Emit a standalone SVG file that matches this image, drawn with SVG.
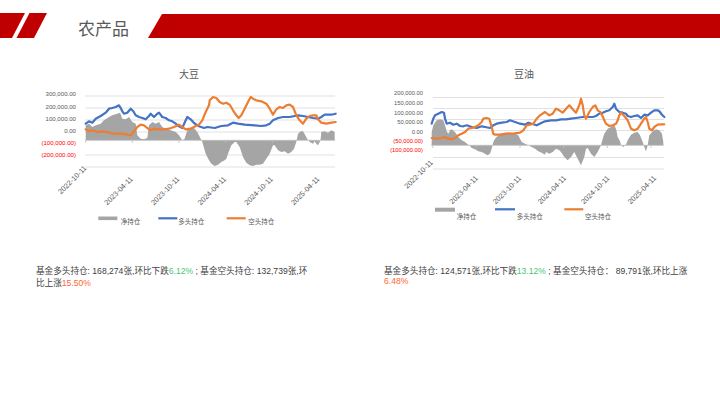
<svg xmlns="http://www.w3.org/2000/svg" width="720" height="405" viewBox="0 0 720 405">
<style>
.t{font-family:"Liberation Sans","Noto Sans CJK SC",sans-serif}
.ttl{font-size:10px;fill:#595959;text-anchor:middle}
.yl{font-size:5.8px;fill:#595959;text-anchor:end}
.yn{font-size:5.8px;fill:#FF0000;text-anchor:end}
.big{font-size:6.1px}
.xl{font-size:7.3px;fill:#595959;text-anchor:end}
.lg{font-size:6.5px;fill:#595959}
.grid{stroke:#d9d9d9;stroke-width:0.8;fill:none}
.axis{stroke:#bfbfbf;stroke-width:0.8;fill:none}
.net{fill:#A5A5A5;stroke:none}
.long{fill:none;stroke:#4472C4;stroke-width:2.2;stroke-linejoin:round;stroke-linecap:round}
.short{fill:none;stroke:#ED7D31;stroke-width:2.2;stroke-linejoin:round;stroke-linecap:round}
.body{font-size:8.6px;fill:#404040}
.up{fill:#48C774}
.dn{fill:#FF6633}
</style>
<rect width="720" height="405" fill="#ffffff"/>
<g id="header">
<polygon points="0,13 25,13 12,38 0,38" fill="#C00000"/>
<polygon points="29.5,13 47,13 34,38 16.5,38" fill="#C00000"/>
<polygon points="162,14 720,14 720,38 148,38" fill="#C00000"/>
<text class="t" x="78" y="35" font-size="17" fill="#595959">农产品</text>
</g>

<g id="chart-soybean">
<text class="t ttl" x="189" y="78">大豆</text>
<g class="grid">
<line x1="85" y1="96" x2="335" y2="96"/>
<line x1="85" y1="108" x2="335" y2="108"/>
<line x1="85" y1="120" x2="335" y2="120"/>
<line x1="85" y1="132" x2="335" y2="132"/>
<line x1="85" y1="155" x2="335" y2="155"/>
<line x1="85" y1="167" x2="335" y2="167"/>
</g>
<g class="t">
<text class="yl big" x="76" y="96.4">300,000.00</text>
<text class="yl big" x="76" y="108.8">200,000.00</text>
<text class="yl big" x="76" y="120.8">100,000.00</text>
<text class="yl big" x="76" y="132.8">0.00</text>
<text class="yn big" x="76" y="144.8">(100,000.00)</text>
<text class="yn big" x="76" y="156.8">(200,000.00)</text>
</g>
<path class="net" d="M85.7,140.3 L85.7,125.3 L89,123.7 L92.3,127 L95.7,125.3 L100.7,123.7 L104,120.3 L109,117 L112.3,115.3 L117.3,113.7 L120,112.7 L122.3,118.7 L125.7,119.3 L129,117 L132.3,122 L135.7,123.7 L137.3,135.3 L140.7,138.7 L144,139.3 L147.3,138 L149,125.3 L152.3,122 L155.7,123.7 L159,122 L162.3,127 L165.7,128.7 L170.7,130.3 L175.7,132 L179,135.3 L182.3,140.3 L184.5,139 L187.3,130.3 L190.7,128.7 L194,128 L197.3,132 L200.7,138.7 L202.3,142 L205.7,153.7 L209,160.3 L211.3,163.7 L214.7,166 L218,164.7 L221.3,162 L224.7,160.3 L226.3,158.7 L228,153.7 L231.3,145.3 L234.7,142 L236.3,142 L239.7,147 L243,157 L246.3,162.7 L249.7,165.3 L253,166 L256.3,164.7 L259.7,164.7 L263,163.7 L266.3,158.7 L269.7,153.7 L273,145.3 L274.7,145.3 L278,150.3 L281.3,152 L284.7,151.3 L288,153.7 L291.3,152 L294,148.7 L296.3,142 L298,133.7 L300.7,131.3 L303,131.3 L305.3,135.3 L308,140.3 L309.7,142 L313,143.7 L314.7,141.3 L316.3,143.7 L318,145.3 L319.7,142 L320.7,138.7 L321.3,132 L324.7,131.3 L328,132.7 L331.3,130.3 L334.7,132 L334.7,140.3 Z"/>
<line class="axis" x1="85" y1="140.3" x2="335" y2="140.3"/>
<g class="axis">
<line x1="85.7" y1="140.3" x2="85.7" y2="143"/>
<line x1="132.3" y1="140.3" x2="132.3" y2="143"/>
<line x1="179" y1="140.3" x2="179" y2="143"/>
<line x1="225.7" y1="140.3" x2="225.7" y2="143"/>
<line x1="272.3" y1="140.3" x2="272.3" y2="143"/>
<line x1="319" y1="140.3" x2="319" y2="143"/>
</g>
<polyline class="long" points="85.7,123.7 89,121.3 92.3,122.7 95.7,118.7 100.7,116 105.7,112.7 109,108.7 112.3,108 115.7,107 119,105.3 120.7,108 122.3,111.3 124,113.7 127.3,112.7 130.7,108.7 133.3,111.3 135.7,115.3 139,117 142.3,118 145.7,119.3 149,116 150.7,113.7 154,117 157.3,113.7 159,112.7 162.3,117 165.7,118 169,120.3 172.3,121.3 175.7,123.7 179,126.3 182.3,128 185.7,120.3 187.3,117 190.7,119.3 194,123 199,126.3 204,128 207.3,127 214.7,128 221.3,126 228,125.3 233,122.7 238,123.7 244.7,124.7 254.7,125.3 261.3,126 266.3,125.3 269.7,123.7 273,120.3 278,118 283,117 289.7,117 294.7,116 298,115.3 303,116 308,117 313,118 318,118.7 321.3,117 324.7,114.7 331.3,114.7 335.7,113.7"/>
<polyline class="short" points="85.7,129.3 89,131.3 92.3,130.3 97.3,132 102.3,131.3 107.3,132 112.3,133.7 117.3,133.7 122.3,133.7 127.3,134.7 130.7,135.3 134,131.3 137.3,127 140.7,124.7 144,125.3 147.3,128 150.7,130.3 154,128.7 157.3,129.3 164,129.3 169,128.7 174,127 179,124.7 182.3,127 185.7,129.3 190.7,128.7 195.7,126 199,124.7 202.3,120.3 205.7,112 209,105.3 209.7,100.3 213,97 216.3,98 219.7,102 223,103.7 226.3,102.7 229.7,104.7 233,110.3 236.3,115.3 238.7,118 241.3,115.3 244.7,108.7 248,102 250.7,97 253,98.7 256.3,100.3 261.3,101.3 266.3,103.7 269.7,108.7 273,114.7 276.3,109.3 279.7,107 283,108 286.3,105.3 289.7,104.7 293,107 296.3,115.3 299.7,120.3 303,123.7 306.3,118.7 309.7,116 313,115.3 316.3,115.3 318,119.3 321.3,122.7 326.3,123.7 331.3,122.7 335.7,122"/>
<g class="t">
<text class="xl" transform="translate(87,168.6) rotate(-45)">2022-10-11</text>
<text class="xl" transform="translate(133.3,179.5) rotate(-45)">2023-04-11</text>
<text class="xl" transform="translate(180,179.5) rotate(-45)">2023-10-11</text>
<text class="xl" transform="translate(226.7,179.5) rotate(-45)">2024-04-11</text>
<text class="xl" transform="translate(273.3,179.5) rotate(-45)">2024-10-11</text>
<text class="xl" transform="translate(320,179.5) rotate(-45)">2025-04-11</text>
</g>
<rect x="98.3" y="216.5" width="19" height="3.6" fill="#A5A5A5"/>
<line x1="158.3" y1="218.3" x2="177.3" y2="218.3" stroke="#4472C4" stroke-width="2.2"/>
<line x1="226.7" y1="218.3" x2="245.7" y2="218.3" stroke="#ED7D31" stroke-width="2.2"/>
<g class="t">
<text class="lg" x="120.7" y="224.2">净持仓</text>
<text class="lg" x="178.3" y="224.2">多头持仓</text>
<text class="lg" x="248.3" y="224.2">空头持仓</text>
</g>
</g>

<g id="chart-soyoil">
<text class="t ttl" x="524" y="78">豆油</text>
<g class="grid">
<line x1="433" y1="97.5" x2="664" y2="97.5"/>
<line x1="433" y1="108.5" x2="664" y2="108.5"/>
<line x1="433" y1="119.5" x2="664" y2="119.5"/>
<line x1="433" y1="130.5" x2="664" y2="130.5"/>
<line x1="433" y1="157.5" x2="664" y2="157.5"/>
<line x1="433" y1="169" x2="664" y2="169"/>
</g>
<g class="t">
<text class="yl" x="423" y="95.4">200,000.00</text>
<text class="yl" x="423" y="105.4">150,000.00</text>
<text class="yl" x="423" y="114.8">100,000.00</text>
<text class="yl" x="423" y="124.4">50,000.00</text>
<text class="yl" x="423" y="133.8">0.00</text>
<text class="yn" x="423" y="143.1">(50,000.00)</text>
<text class="yn" x="423" y="152.4">(100,000.00)</text>
</g>
<path class="net" d="M431.7,145.3 L431.7,132 L433.3,125.3 L436.7,120.3 L440,119.3 L443.3,120.3 L445,125.3 L446.7,131.3 L448.3,133.7 L450,130.3 L451.7,129.3 L455,132 L458.3,137 L461.7,140.3 L465,142 L468.3,144.7 L469.3,145.3 L471.7,148 L475,149.3 L478.3,151.3 L481.7,152 L485,153.7 L487.3,155.3 L490,153.7 L491.7,148.7 L493.3,142 L495,138.7 L498.3,135.3 L501.7,133.7 L505,132.7 L510,132.7 L515,133.7 L518.3,135.3 L520,138.7 L521.7,142 L525,143.7 L528.3,145.3 L531.7,147 L535,148.7 L538.3,151.3 L541.7,152.7 L545,154.7 L546,152 L549.3,153.7 L552.7,152 L556,148.7 L559.3,150.3 L561,152 L564.3,157 L567.7,160.3 L571,157 L574.3,152 L577.7,158.7 L581,165.3 L584.3,157 L586,148.7 L587.7,148 L591,153.7 L594.3,157 L597.7,152 L599.3,148.7 L601,145.3 L602.7,138.7 L604.3,133.7 L607.7,128.7 L611,127 L614.3,125.3 L616,128.7 L617.7,137 L620,141.3 L621,145.3 L623.3,147 L626,144.7 L627.7,140.3 L631,134.7 L634.3,132.7 L637.7,132 L640,135.3 L642.7,142 L644.3,147 L646,151.3 L647.7,145.3 L649.3,135.3 L652.7,131.3 L656,129.3 L659.3,130.3 L662,133.7 L663.3,142 L663.3,145.3 Z"/>
<line class="axis" x1="431" y1="145.3" x2="664" y2="145.3"/>
<g class="axis">
<line x1="432.7" y1="145.3" x2="432.7" y2="148"/>
<line x1="476.3" y1="145.3" x2="476.3" y2="148"/>
<line x1="520" y1="145.3" x2="520" y2="148"/>
<line x1="563.7" y1="145.3" x2="563.7" y2="148"/>
<line x1="607.3" y1="145.3" x2="607.3" y2="148"/>
<line x1="651" y1="145.3" x2="651" y2="148"/>
</g>
<polyline class="long" points="431.7,123.7 433.3,118.7 435,115.3 438.3,113.7 441.7,112 444,112.7 445,118.7 446.7,123.7 450,122.7 453.3,124.7 456.7,123.7 460,126 463.3,126.3 466.7,125.3 471.7,127 476.7,128 481.7,126.3 485,127 490,128 493.3,125.3 496.7,123.7 501.7,122.7 506.7,122 510,120.3 515,122 520,123.7 525,124.7 528.3,122.7 531.7,123.7 536.7,125.3 541.7,122.7 545,121.3 551,120.3 556,120.3 561,119.3 566,119.3 571,118.7 576,118 582.7,117 587.7,117 592.7,117 596,116 599.3,113.7 602.7,112.7 606,111.3 609.3,110.3 612.7,107 614.3,103.7 616,108.7 619.3,112 622.7,112.7 626,113.7 627.7,116 631,117 634.3,116 637.7,115.3 641,118 644.3,114.7 647.7,115.3 651,112.7 654.3,110.3 657.7,110.3 659.3,111.3 662,114.7 664.3,117"/>
<polyline class="short" points="431.7,138 436.7,138.7 441.7,138 445,137 448.3,138.7 451.7,139.3 455,138 458.3,135.3 461.7,133.7 465,132 468.3,128.7 471.7,128 475,127 478.3,125.3 481.7,122 483.3,118.7 486.7,118 489.3,118.7 491.7,127 493.3,133.7 495,134.7 500,134.7 506.7,133.7 513.3,133.7 520,132.7 523.3,130.3 526.7,125.3 530,124.7 533.3,123.7 536.7,118.7 540,115.3 545,112 549.3,115.3 552.7,113.7 556,108.7 559.3,110.3 562.7,112.7 566,108.7 569.3,105.3 572.7,109.3 576,112.7 579.3,105.3 581,98.7 582.7,105.3 584.3,115.3 586,118.7 589.3,112 592.7,107 595.3,105.3 597.7,110.3 601,112.7 604.3,120.3 606,123.7 609.3,126 612.7,125.3 616,123.7 617.7,120.3 619.3,115.3 621,112.7 624.3,116 627.7,120.3 631,128.7 634.3,130.3 637.7,128.7 641,123.7 644.3,118.7 646,117 647.7,122 649.3,128.7 652,130.3 654.3,127 657.7,124.7 661,124.3 664.3,124.3"/>
<g class="t">
<text class="xl" transform="translate(433.3,163) rotate(-45)">2022-10-11</text>
<text class="xl" transform="translate(478.3,178.6) rotate(-45)">2023-04-11</text>
<text class="xl" transform="translate(521.7,178.6) rotate(-45)">2023-10-11</text>
<text class="xl" transform="translate(566.7,178.6) rotate(-45)">2024-04-11</text>
<text class="xl" transform="translate(610,178.6) rotate(-45)">2024-10-11</text>
<text class="xl" transform="translate(656.7,178.6) rotate(-45)">2025-04-11</text>
</g>
<rect x="435" y="207.7" width="20" height="4" fill="#A5A5A5"/>
<line x1="495" y1="209.3" x2="515" y2="209.3" stroke="#4472C4" stroke-width="2.2"/>
<line x1="564.3" y1="209.3" x2="583.3" y2="209.3" stroke="#ED7D31" stroke-width="2.2"/>
<g class="t">
<text class="lg" x="456.7" y="219">净持仓</text>
<text class="lg" x="516.7" y="219">多头持仓</text>
<text class="lg" x="585" y="219">空头持仓</text>
</g>
</g>

<g id="note-soybean" class="t body">
<text x="36" y="274">基金多头持仓: 168,274张,环比下跌<tspan class="up">6.12%</tspan> ; 基金空头持仓: 132,739张,环</text>
<text x="36" y="285.7">比上涨<tspan class="dn">15.50%</tspan></text>
</g>
<g id="note-soyoil" class="t body">
<text x="384" y="274">基金多头持仓: 124,571张,环比下跌<tspan class="up">13.12%</tspan> ; 基金空头持仓： 89,791张,环比上涨</text>
<text x="384" y="283.5" class="dn">6.48%</text>
</g>
</svg>
